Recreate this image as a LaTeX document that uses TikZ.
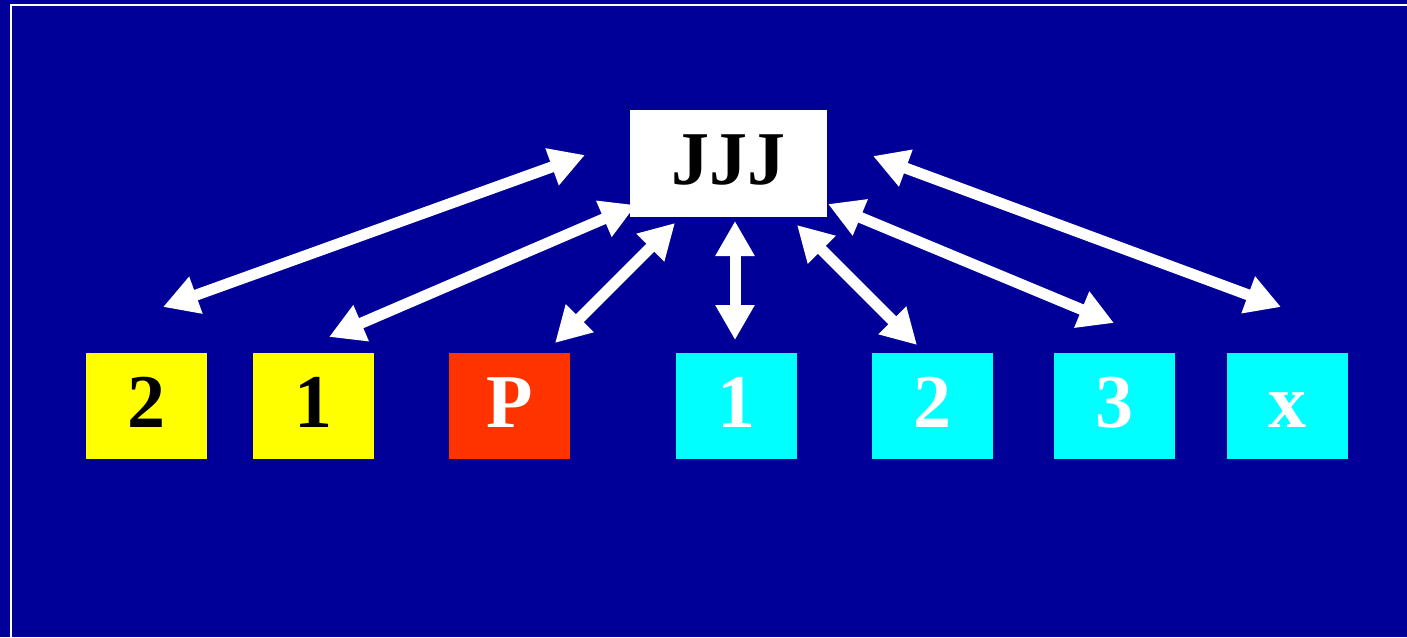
\documentclass[tikz,border=0pt]{standalone}
\usepackage{fontspec}
\setmainfont{Liberation Serif}
\usetikzlibrary{arrows.meta, positioning}
\definecolor{slidebg}{HTML}{000099}
\definecolor{slideyellow}{HTML}{FFFF00}
\definecolor{slidered}{HTML}{FF3300}
\definecolor{slidecyan}{HTML}{00FFFF}
\tikzstyle{card} = [
	rectangle,
	minimum width=121pt,
	minimum height=106pt,
	inner sep=0pt,
	outer sep=0pt,
	text height=50pt,
	text depth=8pt,
	text centered,
	font=\fontsize{76}{76}\selectfont\bfseries
]
\tikzstyle{player} = [
	card,
	fill=slideyellow,
	text=black
]
\tikzstyle{pivot} = [
	card,
	fill=slidered,
	text=white
]
\tikzstyle{agent} = [
	card,
	fill=slidecyan,
	text=white
]
\tikzstyle{hub} = [
	card,
	minimum width=197pt,
	minimum height=107pt,
	fill=white,
	text=black
]
\tikzstyle{arrow} = [white, line width=11pt, {Triangle[length=35pt,width=37pt]}-{Triangle[length=35pt,width=37pt]}]

\begin{document}
\begin{tikzpicture}[x=1pt, y=-1pt]
	\fill[slidebg] (0,0) rectangle (1407,637);
	\useasboundingbox (0,0) rectangle (1407,637);
	\draw[white, line width=2pt] (11,5) rectangle (1430,660);

	\node (hub) [hub] at (728.5,163.5) {JJJ};
	\node (yel2) [player] at (146.5,406) {2};
	\node (yel1) [player, right=46pt of yel2] {1};
	\node (red) [pivot, right=75pt of yel1] {P};
	\node (cyan1) [agent, right=106pt of red] {1};
	\node (cyan2) [agent, right=75pt of cyan1] {2};
	\node (cyan3) [agent, right=61pt of cyan2] {3};
	\node (cyanx) [agent, right=52pt of cyan3] {x};

	\coordinate (a1) at (163,307);
	\coordinate (b1) at (585,155);
	\coordinate (a2) at (329,337);
	\coordinate (b2) at (636,205);
	\coordinate (a3) at (555,343);
	\coordinate (b3) at (675,223);
	\coordinate (a4) at (735,340);
	\coordinate (b4) at (735,221);
	\coordinate (a5) at (917,345);
	\coordinate (b5) at (797,225);
	\coordinate (a6) at (1114,323);
	\coordinate (b6) at (828,204);
	\coordinate (a7) at (1281,307);
	\coordinate (b7) at (873,156);

	\draw [arrow] (a1) -- (b1);
	\draw [arrow] (a2) -- (b2);
	\draw [arrow] (a3) -- (b3);
	\draw [arrow] (a4) -- (b4);
	\draw [arrow] (a5) -- (b5);
	\draw [arrow] (a6) -- (b6);
	\draw [arrow] (a7) -- (b7);
\end{tikzpicture}
\end{document}
